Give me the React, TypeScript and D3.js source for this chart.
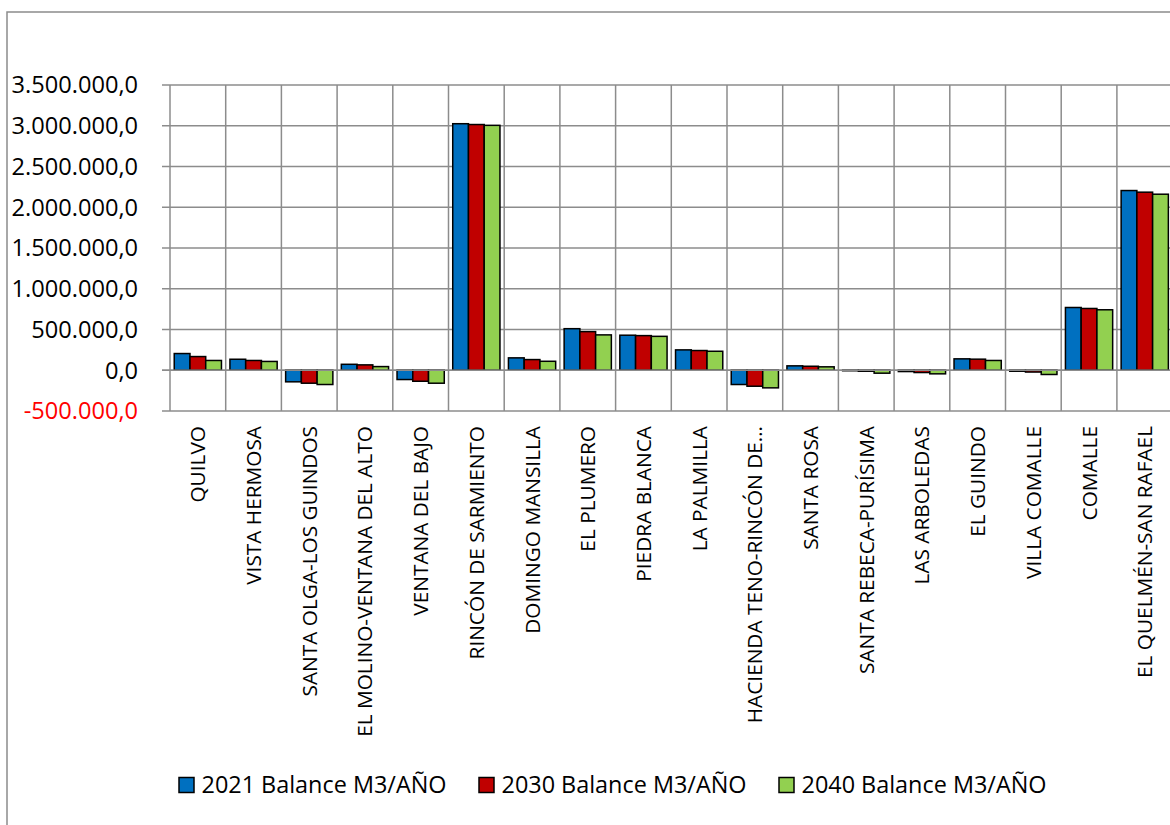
import React from "react";
import * as d3 from "d3";

// Localities along the x axis
const categories: string[] = [
  "QUILVO",
  "VISTA HERMOSA",
  "SANTA OLGA-LOS GUINDOS",
  "EL MOLINO-VENTANA DEL ALTO",
  "VENTANA DEL BAJO",
  "RINCÓN DE SARMIENTO",
  "DOMINGO MANSILLA",
  "EL PLUMERO",
  "PIEDRA BLANCA",
  "LA PALMILLA",
  "HACIENDA TENO-RINCÓN DE…",
  "SANTA ROSA",
  "SANTA REBECA-PURÍSIMA",
  "LAS ARBOLEDAS",
  "EL GUINDO",
  "VILLA COMALLE",
  "COMALLE",
  "EL QUELMÉN-SAN RAFAEL",
];

// Water balance per year (m3/año)
const balance2021: number[] = [
  205000, 135000, -142000, 73000, -114000, 3025000, 152000, 510000, 430000,
  250000, -175000, 54000, -6000, -16000, 140000, -12000, 770000, 2205000,
];
const balance2030: number[] = [
  168000, 120000, -159000, 66000, -135000, 3015000, 131000, 474000, 425000,
  242000, -196000, 49000, -12000, -28000, 136000, -22000, 758000, 2185000,
];
const balance2040: number[] = [
  120000, 108000, -175000, 45000, -159000, 3005000, 110000, 434000, 416000,
  233000, -216000, 42000, -36000, -44000, 120000, -52000, 742000, 2160000,
];

const seriesNames: string[] = [
  "2021 Balance M3/AÑO",
  "2030 Balance M3/AÑO",
  "2040 Balance M3/AÑO",
];
const seriesColors: string[] = ["#0070C0", "#C00000", "#92D050"];

const yTicks: number[] = [
  -500000, 0, 500000, 1000000, 1500000, 2000000, 2500000, 3000000, 3500000,
];

const W = 1170;
const H = 825;
const plot = { left: 170, right: 1172.6, top: 85, bottom: 411 };
const gridColor = "#8C8C8C";
const font = "'Open Sans', sans-serif";

const fmt = (v: number) => {
  const s = d3.format(",.1f")(Math.abs(v)); // e.g. 3,500,000.0
  const es = s.replace(/,/g, "#").replace(".", ",").replace(/#/g, ".");
  return (v < 0 ? "-" : "") + es;
};

export default function App() {
  const series = [balance2021, balance2030, balance2040];

  const x0 = d3
    .scaleBand<string>()
    .domain(categories)
    .range([plot.left, plot.right])
    .padding(0);
  const bw = x0.bandwidth();
  const x1 = d3
    .scaleBand<number>()
    .domain([0, 1, 2])
    .range([bw * 0.076, bw * 0.924])
    .padding(0);
  const y = d3
    .scaleLinear()
    .domain([-500000, 3500000])
    .range([plot.bottom, plot.top]);

  const zeroY = y(0);

  return (
    <svg
      width={W}
      height={H}
      style={{ position: "absolute", left: 0, top: 0, background: "#fff" }}
    >
      {/* chart frame */}
      <rect
        x={7}
        y={12}
        width={1200}
        height={840}
        fill="#fff"
        stroke="#8C8C8C"
        strokeWidth={1.5}
      />

      {/* horizontal gridlines with tick stubs */}
      {yTicks.map((t) => (
        <line
          key={"h" + t}
          x1={162}
          x2={plot.right}
          y1={y(t)}
          y2={y(t)}
          stroke={gridColor}
          strokeWidth={1.5}
        />
      ))}

      {/* vertical gridlines on category boundaries */}
      {categories.map((c) => (
        <line
          key={"v" + c}
          x1={x0(c)!}
          x2={x0(c)!}
          y1={plot.top}
          y2={plot.bottom}
          stroke={gridColor}
          strokeWidth={1.5}
        />
      ))}
      <line
        x1={plot.right}
        x2={plot.right}
        y1={plot.top}
        y2={plot.bottom}
        stroke={gridColor}
        strokeWidth={1.5}
      />

      {/* bars */}
      {categories.map((c, i) => (
        <g key={"g" + c} transform={`translate(${x0(c)},0)`}>
          {series.map((s, k) => {
            const v = s[i];
            const top = Math.min(y(v), zeroY);
            const h = Math.abs(y(v) - zeroY);
            return (
              <rect
                key={k}
                x={x1(k)!}
                y={top}
                width={x1.bandwidth()}
                height={h}
                fill={seriesColors[k]}
                stroke="#000"
                strokeWidth={1.5}
              />
            );
          })}
        </g>
      ))}

      {/* zero axis drawn above the bars */}
      <line
        x1={162}
        x2={plot.right}
        y1={zeroY}
        y2={zeroY}
        stroke={gridColor}
        strokeWidth={1.5}
      />

      {/* y tick labels */}
      {yTicks.map((t) => (
        <text
          key={"yl" + t}
          x={138}
          y={y(t)}
          dy="0.36em"
          textAnchor="end"
          fontFamily={font}
          fontSize={23.6}
          fill={t < 0 ? "#FF0000" : "#000"}
        >
          {fmt(t)}
        </text>
      ))}

      {/* category labels, rotated */}
      {categories.map((c) => {
        const cx = x0(c)! + bw / 2;
        return (
          <text
            key={"xl" + c}
            transform={`translate(${cx},426) rotate(-90)`}
            dy="0.36em"
            textAnchor="end"
            fontFamily={font}
            fontSize={20.8}
            fill="#000"
          >
            {c}
          </text>
        );
      })}

      {/* legend */}
      {seriesNames.map((n, k) => {
        const lx = 179 + k * 300;
        return (
          <g key={"lg" + n}>
            <rect
              x={lx}
              y={777.5}
              width={15}
              height={15}
              fill={seriesColors[k]}
              stroke="#000"
              strokeWidth={1.5}
            />
            <text
              x={lx + 22.5}
              y={793}
              fontFamily={font}
              fontSize={23.5}
              textLength={245}
              lengthAdjust="spacingAndGlyphs"
              fill="#000"
            >
              {n}
            </text>
          </g>
        );
      })}
    </svg>
  );
}
